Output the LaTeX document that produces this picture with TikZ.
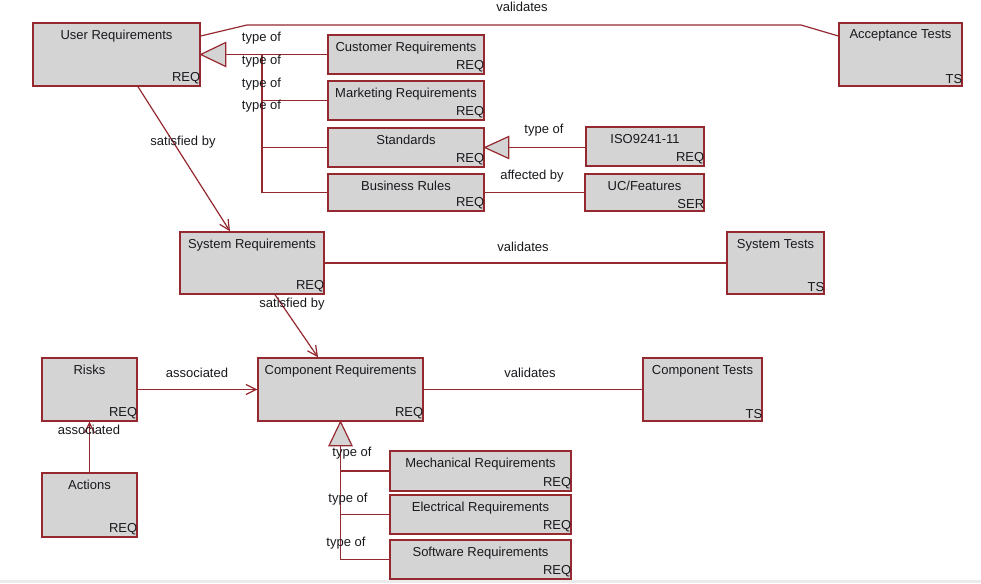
\documentclass[tikz,border=0pt]{standalone}
\usepackage{fontspec}
\setmainfont{Liberation Sans}
\usetikzlibrary{arrows.meta,calc}
\definecolor{lred}{RGB}{150,40,48}
\definecolor{boxfill}{RGB}{212,212,212}
\definecolor{txt}{RGB}{25,25,30}
\newcommand\umlbox[7]{%
  \node[box, minimum width=#4pt, minimum height=#5pt] (#1) at (#2,#3) {};
  \node[ttl] (#1-t) at (#1.north) {#6};
  \node[tag] (#1-s) at (#1.south east) {#7};
}
\begin{document}
\begin{tikzpicture}[x=1pt,y=-1pt,
  font=\fontsize{13}{15}\selectfont, text=txt,
  box/.style={draw=lred, line width=1.4pt, fill=boxfill, inner sep=0pt},
  ttl/.style={anchor=north, inner sep=0pt, yshift=-7.5pt},
  tag/.style={anchor=south east, inner sep=0pt, yshift=3pt, xshift=-0.3pt},
  conn/.style={draw=lred, line width=1.2pt},
  lbl/.style={inner sep=0pt},
  gen/.style={draw=lred, line width=1.2pt, fill=boxfill, line join=miter},
  arr/.style={conn, -{Straight Barb[length=10pt,width=10pt]}}
]
\useasboundingbox (0,0) rectangle (981,583);
\fill[white] (0,0) rectangle (981,583);
\fill[black!8] (0,580) rectangle (981,583);

% boxes
\umlbox{user}{116.5}{54.5}{167}{63}{User Requirements}{REQ}
\umlbox{cust}{406}{54.5}{156}{39}{Customer Requirements}{REQ}
\umlbox{mark}{406}{100.5}{156}{39}{Marketing Requirements}{REQ}
\umlbox{std}{406}{147.5}{156}{39}{Standards}{REQ}
\umlbox{bus}{406}{192.5}{156}{37}{Business Rules}{REQ}
\umlbox{acc}{900.5}{54.5}{123}{63}{Acceptance Tests}{TS}
\umlbox{iso}{645}{146.5}{118}{39}{ISO9241-11}{REQ}
\umlbox{uc}{644.5}{192.5}{119}{37}{UC/Features}{SER}
\umlbox{sys}{252}{263}{144}{62}{System Requirements}{REQ}
\umlbox{syst}{775.5}{263}{97}{62}{System Tests}{TS}
\umlbox{comp}{340.5}{389.5}{165}{63}{Component Requirements}{REQ}
\umlbox{compt}{702.5}{389.5}{119}{63}{Component Tests}{TS}
\umlbox{risks}{89.5}{389.5}{95}{63}{Risks}{REQ}
\umlbox{actions}{89.5}{505}{95}{64}{Actions}{REQ}
\umlbox{mech}{480.5}{471}{181}{40}{Mechanical Requirements}{REQ}
\umlbox{elec}{480.5}{514.5}{181}{39}{Electrical Requirements}{REQ}
\umlbox{soft}{480.5}{559.5}{181}{39}{Software Requirements}{REQ}

% user requirements generalization
\coordinate (ug) at ($(user.east)+(25,0)$);
\coordinate (ubt) at (262,54.5);
\draw[conn] (ug) -- (cust.west);
\draw[conn] (ubt) |- (bus.west);
\draw[conn] (ubt |- mark.west) -- (mark.west);
\draw[conn] (ubt |- std.west) -- (std.west);
\draw[gen] (user.east) -- ++(25,-12) -- ++(0,24) -- cycle;

% standards generalization
\coordinate (sg) at ($(std.east)+(24,0)$);
\draw[conn] (sg) -- (sg -| iso.west);
\draw[gen] (std.east) -- ++(24,-11) -- ++(0,22) -- cycle;

\draw[conn] (bus.east) -- (uc.west);

% validates (acceptance)
\coordinate (v1) at (247,25);
\coordinate (v2) at (801,25);
\draw[conn] ($(user.east)+(0,-18.5)$) -- (v1) -- (v2) -- ($(acc.west)+(0,-18.5)$);

% satisfied by / associated / validates
\draw[arr] ($(user.south)+(21.5,0)$) -- ($(sys.north)+(-22,0)$);
\draw[arr] ($(sys.south)+(23,0)$) -- ($(comp.north)+(-22.5,0)$);
\draw[conn] (sys.east) -- (syst.west);
\draw[conn] (comp.east) -- (compt.west);
\draw[arr] (risks.east) -- (comp.west);
\draw[arr] (actions.north) -- (risks.south);

% component generalization
\coordinate (cg) at ($(comp.south)+(0,24)$);
\draw[conn] (cg) |- (soft.west);
\draw[conn] (cg |- mech.west) -- (mech.west);
\draw[conn] (cg |- elec.west) -- (elec.west);
\draw[gen] (comp.south) -- ++(-11.5,24) -- ++(23,0) -- cycle;

% labels
\node[lbl] (la) at (522,7) {validates};
\node[lbl] (lt1) at (261.5,38) {type of};
\node[lbl] (lt2) at (261.5,61) {type of};
\node[lbl] (lt3) at (261.5,84) {type of};
\node[lbl] (lt4) at (261.5,106) {type of};
\node[lbl] (ls1) at (183,142) {satisfied by};
\node[lbl] (lt5) at (544,130) {type of};
\node[lbl] (laf) at (532,176) {affected by};
\node[lbl] (lv2) at (523,247) {validates};
\node[lbl] (ls2) at (292,304) {satisfied by};
\node[lbl] (las1) at (197,373) {associated};
\node[lbl] (lv3) at (530,373) {validates};
\node[lbl] (las2) at (89,430) {associated};
\node[lbl] (lt6) at (352,453) {type of};
\node[lbl] (lt7) at (348,499) {type of};
\node[lbl] (lt8) at (346,543) {type of};
\end{tikzpicture}
\end{document}
